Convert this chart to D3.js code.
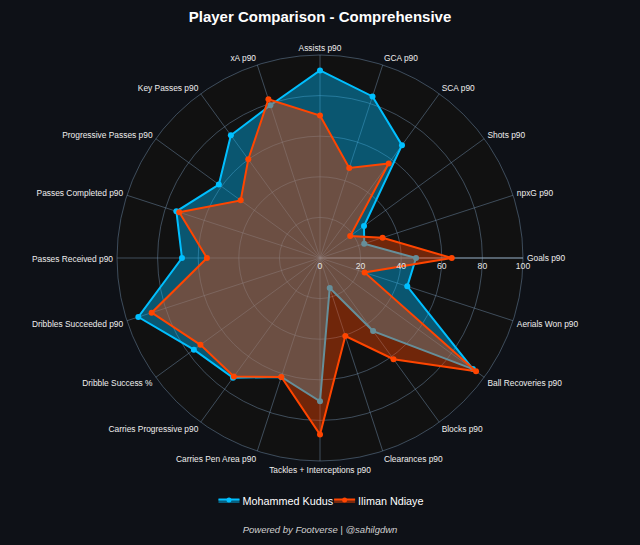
<!DOCTYPE html>
<html><head><meta charset="utf-8">
<script src="https://cdn.jsdelivr.net/npm/d3@7"></script>
<style>html,body{margin:0;padding:0;background:#0e1117;} svg{display:block;}</style>
</head><body><svg id="chart" width="640" height="545"></svg>
<script>
const categories = ["Assists p90","GCA p90","SCA p90","Shots p90","npxG p90","Goals p90","Aerials Won p90","Ball Recoveries p90","Blocks p90","Clearances p90","Tackles + Interceptions p90","Carries Pen Area p90","Carries Progressive p90","Dribble Success %","Dribbles Succeeded p90","Passes Received p90","Passes Completed p90","Progressive Passes p90","Key Passes p90","xA p90"];
const kudusValues  = [92.4, 83.7, 68.7, 26.8, 22.9, 47.3, 45.2, 93.1, 44.5, 15.5, 70.6, 61.6, 72.9, 76.8, 94.1, 68.0, 74.4, 61.6, 74.7, 79.1];
const ndiayeValues = [70.2, 46.6, 57.6, 18.4, 32.4, 64.9, 23.1, 95.0, 61.6, 40.4, 87.0, 61.6, 72.2, 72.8, 87.2, 55.7, 72.9, 48.3, 60.1, 82.2];
const radialTicks = [0, 20, 40, 60, 80, 100];
const seriesNames = ["Mohammed Kudus", "Iliman Ndiaye"];
const seriesColors = ["#00bfff", "#ff4500"];
const titleText = "Player Comparison - Comprehensive";
const footerText = "Powered by Footverse | @sahilgdwn";

const svg = d3.select("#chart");
const W = 640, H = 545, cx = 320, cy = 258, R = 203;
const FONT = "'Liberation Sans', Arial, Helvetica, sans-serif";

svg.append("rect").attr("width", W).attr("height", H).attr("fill", "#0e1117");

const n = categories.length;
const angle = d3.scaleLinear().domain([0, n]).range([0, 2 * Math.PI]);
const r = d3.scaleLinear().domain([0, 100]).range([0, R]);

const g = svg.append("g").attr("transform", `translate(${cx},${cy})`);

g.append("circle").attr("r", r(100)).attr("fill", "#111111");

const gridColor = "rgba(115,145,175,0.47)";
g.selectAll("circle.ring").data(radialTicks.filter(t => t > 0)).join("circle")
  .attr("class", "ring").attr("r", d => r(d)).attr("fill", "none")
  .attr("stroke", gridColor).attr("stroke-width", 1);
g.selectAll("line.spoke").data(categories).join("line")
  .attr("class", "spoke")
  .attr("x1", 0).attr("y1", 0)
  .attr("x2", (d, i) => r(100) * Math.sin(angle(i)))
  .attr("y2", (d, i) => -r(100) * Math.cos(angle(i)))
  .attr("stroke", gridColor).attr("stroke-width", 1);
g.append("line").attr("x1", 0).attr("y1", 0).attr("x2", r(100)).attr("y2", 0)
  .attr("stroke", "rgba(140,160,180,0.6)").attr("stroke-width", 1.5);

const radial = d3.lineRadial()
  .angle((d, i) => angle(i))
  .radius(d => r(d))
  .curve(d3.curveLinearClosed);

const series = [kudusValues, ndiayeValues];
series.forEach((vals, si) => {
  const col = seriesColors[si];
  const sg = g.append("g");
  sg.append("path").attr("d", radial(vals))
    .attr("fill", col).attr("fill-opacity", 0.4)
    .attr("stroke", col).attr("stroke-width", 2).attr("stroke-linejoin", "miter");
  sg.selectAll("circle").data(vals).join("circle")
    .attr("cx", (d, i) => r(d) * Math.sin(angle(i)))
    .attr("cy", (d, i) => -r(d) * Math.cos(angle(i)))
    .attr("r", 3).attr("fill", col);
});

g.selectAll("text.tick").data(radialTicks).join("text")
  .attr("class", "tick")
  .attr("x", d => r(d)).attr("y", 11)
  .attr("text-anchor", "middle")
  .attr("font-family", FONT).attr("font-size", 8.6)
  .attr("fill", "#e6e6e6")
  .text(d => d);

const LFS = 8.4;
g.selectAll("text.cat").data(categories).join("text")
  .attr("class", "cat")
  .each(function (d, i) {
    const a = angle(i), s = Math.sin(a), c = Math.cos(a);
    const rr = R + 4;
    const anchor = s > 0.05 ? "start" : (s < -0.05 ? "end" : "middle");
    const k = c < 0 ? 0.45 : 0.35;
    d3.select(this)
      .attr("x", rr * s)
      .attr("y", -rr * c + LFS * k * (1 - c))
      .attr("text-anchor", anchor);
  })
  .attr("font-family", FONT).attr("font-size", LFS)
  .attr("fill", "#eeeeee")
  .text(d => d);

svg.append("text").attr("x", cx).attr("y", 22).attr("text-anchor", "middle")
  .attr("font-family", FONT).attr("font-size", 15).attr("font-weight", "bold")
  .attr("fill", "#ffffff").text(titleText);

const leg = svg.append("g");
let xpos = 0;
seriesNames.forEach((name, i) => {
  const it = leg.append("g").attr("transform", `translate(${xpos},0)`);
  it.append("rect").attr("x", 0).attr("y", -2).attr("width", 21).attr("height", 4)
    .attr("fill", seriesColors[i]).attr("fill-opacity", 0.45);
  it.append("line").attr("x1", 0).attr("x2", 21).attr("y1", -1.5).attr("y2", -1.5)
    .attr("stroke", seriesColors[i]).attr("stroke-width", 2);
  it.append("circle").attr("cx", 10.5).attr("cy", -1).attr("r", 2.5).attr("fill", seriesColors[i]);
  const t = it.append("text").attr("x", 24).attr("y", 4)
    .attr("font-family", FONT).attr("font-size", 10.8).attr("fill", "#ffffff").text(name);
  const w = t.node().getComputedTextLength();
  xpos += 24 + w + 1;
});
const legW = xpos - 1;
leg.attr("transform", `translate(${321 - legW / 2},501)`);

svg.append("text").attr("x", cx).attr("y", 533).attr("text-anchor", "middle")
  .attr("font-family", FONT).attr("font-size", 9.5).attr("font-style", "italic")
  .attr("fill", "#d0d0d0").text(footerText);
</script>
</body></html>
